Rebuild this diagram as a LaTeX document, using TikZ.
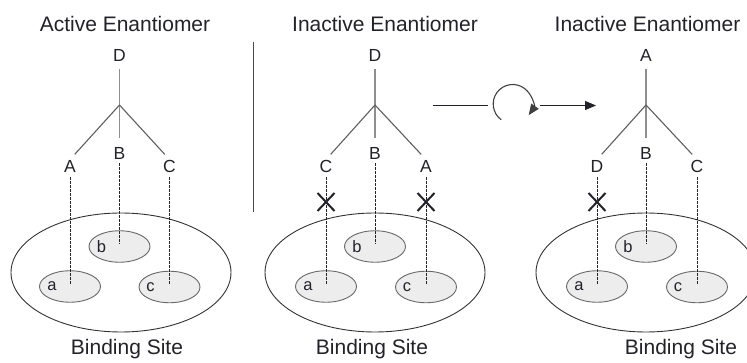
\documentclass[tikz,border=0pt]{standalone}
\usepackage{fontspec}
\setmainfont{Liberation Sans}
\usetikzlibrary{shapes.geometric,shapes.misc,arrows.meta}
\definecolor{ink}{HTML}{222228}
\definecolor{stem}{HTML}{8E8E8E}
\definecolor{branch}{HTML}{5E5E5E}
\definecolor{pocketfill}{HTML}{EDEDED}
\definecolor{pocketline}{HTML}{686868}

\begin{document}
\begin{tikzpicture}[x=1pt,y=-1pt,
  title/.style={font=\fontsize{21}{21}\selectfont, text=ink, anchor=base, inner sep=0},
  grp/.style={font=\fontsize{17.5}{17.5}\selectfont, text=ink, inner sep=0, text height=12.5pt, text depth=0pt},
  stemline/.style={draw=stem, line width=1.5, shorten <=8pt, shorten >=9pt},
  branchline/.style={draw=branch, line width=1.1, shorten >=7pt},
  site/.style={ellipse, draw=black!80, line width=0.9, minimum width=220, minimum height=119, inner sep=0},
  pocket/.style={ellipse, draw=pocketline, fill=pocketfill, line width=0.9, minimum width=61, minimum height=31.5, inner sep=0},
  pk/.style={font=\fontsize{16.5}{16.5}\selectfont, text=ink, inner sep=0},
  bond/.style={draw=ink, line width=0.9, dash pattern=on 2.5pt off 1.5pt},
  nofit/.style={cross out, draw=ink, line width=2, minimum width=15, minimum height=16, inner sep=0},
  flow/.style={draw=ink, line width=1.1},
]
\useasboundingbox (0,0) rectangle (747,363);

% ---------- binding sites ----------
\foreach \n/\cx/\bx in {1/121/127, 2/375/372, 3/646/681}{
  \node[site] (site\n) at (\cx,272.5) {};
  \node[title] (bs\n) at (\bx,355) {Binding Site};
}
% pockets a, b, c
\foreach \n/\ax/\bx/\cx in {1/70/119.5/169.5, 2/326/375/426, 3/597/646/697}{
  \node[pocket] (pa\n) at (\ax,286.5) {};
  \node[pocket] (pb\n) at (\bx,246.5) {};
  \node[pocket] (pc\n) at (\cx,287) {};
  \node[pk] (la\n) at ([xshift=13pt]pa\n.west) {a};
  \node[pk] (lb\n) at ([xshift=13pt]pb\n.west) {b};
  \node[pk] (lc\n) at ([xshift=12pt]pc\n.west) {c};
}

% ---------- titles ----------
\node[title] (t1) at (125,32) {Active Enantiomer};
\node[title] (t2) at (385,32) {Inactive Enantiomer};
\node[title] (t3) at (647.5,32) {Inactive Enantiomer};

% ---------- ligands ----------
% panel 1
\node[grp] (top1) at (119.5,55) {D};
\node[grp] (l1) at (70,166) {A};
\node[grp] (m1) at (119.5,153) {B};
\node[grp] (r1) at (169.5,166) {C};
% panel 2
\node[grp] (top2) at (375,55) {D};
\node[grp] (l2) at (326,166) {C};
\node[grp] (m2) at (375,153) {B};
\node[grp] (r2) at (426,166) {A};
% panel 3
\node[grp] (top3) at (646,55) {A};
\node[grp] (l3) at (597,166) {D};
\node[grp] (m3) at (646,153) {B};
\node[grp] (r3) at (697,166) {C};

\foreach \n/\x in {1/119.5, 2/375, 3/646}{
  \coordinate (j\n) at (\x,105);
  \draw[stemline] (top\n.south) -- (m\n.north);
  \draw[branchline] (j\n) -- (l\n.north);
  \draw[branchline] (j\n) -- (r\n.north);
  \draw[bond, shorten <=5pt, shorten >=2pt] (l\n.south) -- (pa\n.center);
  \draw[bond, shorten <=4pt, shorten >=3pt] (m\n.south) -- (pb\n.center);
  \draw[bond, shorten <=5pt, shorten >=2pt] (r\n.south) -- (pc\n.center);
}

% mismatched contacts
\node[nofit] (x1) at (326,202) {};
\node[nofit] (x2) at (426,202) {};
\node[nofit] (x3) at (597,202) {};

% ---------- divider ----------
\coordinate (s0) at (253,42);
\coordinate (s1) at (253,212);
\draw[draw=black!70, line width=1] (s0) -- (s1);

% ---------- rotation arrow ----------
\coordinate (f0) at (433,105.5);
\coordinate (f1) at (488,105.5);
\coordinate (spin) at (512.7,104);
\coordinate (f2) at (540,105.5);
\coordinate (f3) at (596,105.5);
\draw[flow] (f0) -- (f1);
\draw[flow, draw=black!75, -{Triangle[length=11pt,width=9pt]}]
  ([shift={(126:19.5)}]spin) arc[start angle=126, end angle=395, radius=19.5];
\draw[flow, -{Triangle[length=11pt,width=9pt]}] (f2) -- (f3);
\end{tikzpicture}
\end{document}
